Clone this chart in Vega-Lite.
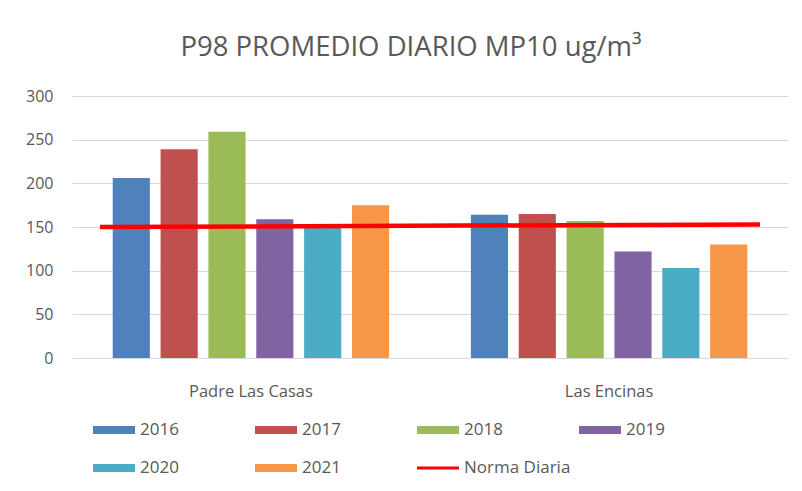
{
  "$schema": "https://vega.github.io/schema/vega-lite/v6.json",
  "width": 716,
  "height": 262,
  "autosize": {"type": "none"},
  "padding": {"left": 72, "top": 96, "right": 14, "bottom": 133},
  "background": "white",
  "config": {
    "font": "Open Sans",
    "view": {"stroke": null},
    "axis": {"labelColor": "#595959", "labelFont": "Open Sans"}
  },
  "title": {
    "text": "P98 PROMEDIO DIARIO MP10 ug/m³",
    "fontSize": 27.5,
    "fontWeight": "normal",
    "color": "#595959",
    "anchor": "middle",
    "frame": "group",
    "dx": -19,
    "offset": 27
  },
  "datasets": {
    "barras": [
      {"lugar": "Padre Las Casas", "serie": "2016", "valor": 206},
      {"lugar": "Padre Las Casas", "serie": "2017", "valor": 239},
      {"lugar": "Padre Las Casas", "serie": "2018", "valor": 259},
      {"lugar": "Padre Las Casas", "serie": "2019", "valor": 159},
      {"lugar": "Padre Las Casas", "serie": "2020", "valor": 152},
      {"lugar": "Padre Las Casas", "serie": "2021", "valor": 175},
      {"lugar": "Las Encinas", "serie": "2016", "valor": 164},
      {"lugar": "Las Encinas", "serie": "2017", "valor": 165},
      {"lugar": "Las Encinas", "serie": "2018", "valor": 157},
      {"lugar": "Las Encinas", "serie": "2019", "valor": 122},
      {"lugar": "Las Encinas", "serie": "2020", "valor": 103},
      {"lugar": "Las Encinas", "serie": "2021", "valor": 130}
    ],
    "norma": [
      {"serie": "Norma Diaria", "desde": "Padre Las Casas", "hasta": "Las Encinas", "inicio": 150, "fin": 153}
    ]
  },
  "layer": [
    {
      "data": {"name": "barras"},
      "mark": {"type": "bar"},
      "encoding": {
        "x": {
          "field": "lugar",
          "type": "nominal",
          "scale": {"domain": ["Padre Las Casas", "Las Encinas"], "paddingInner": 0.157, "paddingOuter": 0.078},
          "axis": {
            "title": null,
            "labelAngle": 0,
            "labelFontSize": 16.5,
            "labelPadding": 25,
            "ticks": false,
            "domainColor": "#d9d9d9",
            "domainWidth": 1
          }
        },
        "xOffset": {
          "field": "serie",
          "type": "nominal",
          "scale": {"paddingInner": 0.224, "paddingOuter": 0.267}
        },
        "y": {
          "field": "valor",
          "type": "quantitative",
          "scale": {"domain": [0, 300]},
          "axis": {
            "title": null,
            "values": [0, 50, 100, 150, 200, 250, 300],
            "labelFontSize": 16,
            "labelPadding": 19,
            "ticks": false,
            "domain": false,
            "gridColor": "#d9d9d9",
            "gridWidth": 1
          }
        },
        "color": {
          "field": "serie",
          "type": "nominal",
          "scale": {
            "domain": ["2016", "2017", "2018", "2019", "2020", "2021", "Norma Diaria"],
            "range": ["#4F81BD", "#C0504D", "#9BBB59", "#8064A2", "#4BACC6", "#F79646", "#FF0000"]
          },
          "legend": {
            "title": null,
            "orient": "none",
            "legendX": 21,
            "legendY": 325,
            "direction": "horizontal",
            "columns": 4,
            "gridAlign": "all",
            "columnPadding": 8,
            "rowPadding": 20,
            "clipHeight": 18,
            "padding": 0,
            "symbolSize": 1764,
            "symbolStrokeWidth": 0,
            "labelFontSize": 17,
            "labelColor": "#595959",
            "labelOffset": 5,
            "labelFont": "Open Sans",
            "encode": {
              "symbols": {
                "update": {
                  "shape": {"signal": "datum.value === 'Norma Diaria' ? 'M-1,-0.07H1V0.07H-1Z' : 'M-1,-0.19H1V0.19H-1Z'"},
                  "fill": {"signal": "scale('color', datum.value)"},
                  "fillOpacity": {"value": 1},
                  "opacity": {"value": 1},
                  "strokeWidth": {"value": 0}
                }
              }
            }
          }
        }
      }
    },
    {
      "data": {"name": "norma"},
      "mark": {"type": "rule", "strokeWidth": 4.5},
      "encoding": {
        "x": {"field": "desde", "type": "nominal", "bandPosition": 0},
        "x2": {"field": "hasta", "bandPosition": 1},
        "y": {"field": "inicio", "type": "quantitative"},
        "y2": {"field": "fin"},
        "color": {"field": "serie", "type": "nominal"}
      }
    }
  ]
}
